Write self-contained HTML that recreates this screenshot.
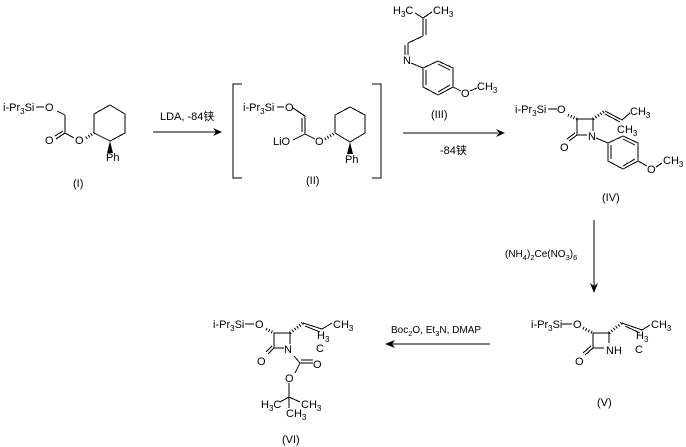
<!DOCTYPE html>
<html><head><meta charset="utf-8">
<style>
html,body{margin:0;padding:0;background:#fff}
svg{display:block}
text{font-family:"Liberation Sans","Noto Sans CJK SC",sans-serif;font-size:11px;fill:#000}
.s{font-size:8px}
.n{font-size:10px}
.n .s{font-size:7.5px}
.b line,.b polyline{stroke:#000;stroke-width:1;fill:none;shape-rendering:crispEdges}
.h line{stroke:#000;stroke-width:3;stroke-dasharray:1 2;fill:none}
</style></head><body>
<svg width="686" height="447" viewBox="0 0 686 447" xmlns="http://www.w3.org/2000/svg">
<g class="b">
<!-- I -->
<line x1="36" y1="107" x2="44" y2="107"/><line x1="57" y1="111" x2="65" y2="115"/><line x1="65" y1="115" x2="65" y2="133"/>
<line x1="65" y1="133" x2="56" y2="139"/><line x1="63" y1="131" x2="55" y2="136"/><line x1="65" y1="133" x2="74" y2="138"/>
<polyline points="94,133 94,114 110,105 125,114 125,133 110,141 94,133"/>
<!-- II -->
<polyline points="242,84 233,84 233,178 242,178"/><polyline points="372,84 381,84 381,178 372,178"/>
<line x1="277" y1="107" x2="284" y2="107"/><line x1="293" y1="108" x2="305" y2="116"/><line x1="305" y1="116" x2="305" y2="134"/><line x1="302" y1="118" x2="302" y2="132"/>
<line x1="293" y1="140" x2="305" y2="134"/><line x1="305" y1="134" x2="315" y2="139"/>
<polyline points="335,133 335,115 350,107 365,115 365,133 350,142 335,133"/>
<!-- III -->
<line x1="415" y1="13" x2="423" y2="18"/><line x1="432" y1="12" x2="423" y2="18"/><line x1="423" y1="18" x2="423" y2="36"/><line x1="426" y1="19" x2="426" y2="35"/>
<line x1="423" y1="36" x2="408" y2="43"/><line x1="408" y1="43" x2="408" y2="55"/><line x1="405" y1="45" x2="405" y2="55"/><line x1="411" y1="63" x2="423" y2="68"/>
<polyline points="423,68 438,61 453,68 453,87 438,95 423,87 423,68"/>
<line x1="426" y1="70" x2="426" y2="85"/><line x1="438" y1="64" x2="450" y2="70"/><line x1="438" y1="92" x2="450" y2="85"/>
<line x1="453" y1="87" x2="461" y2="91"/><line x1="470" y1="91" x2="477" y2="88"/>
<!-- IV -->
<line x1="548" y1="109" x2="557" y2="109"/>
<polyline points="577,135 577,119 593,119 593,131"/><line x1="577" y1="135" x2="587" y2="135"/>
<line x1="577" y1="135" x2="569" y2="141"/><line x1="575" y1="133" x2="567" y2="139"/>
<line x1="605" y1="111" x2="622" y2="120"/><line x1="605" y1="114" x2="620" y2="122"/><line x1="622" y1="120" x2="630" y2="113"/>
<line x1="596" y1="138" x2="608" y2="143"/>
<polyline points="608,143 623,136 638,143 638,161 623,169 608,161 608,143"/>
<line x1="611" y1="145" x2="611" y2="159"/><line x1="623" y1="139" x2="635" y2="145"/><line x1="623" y1="166" x2="635" y2="159"/>
<line x1="638" y1="161" x2="647" y2="166"/><line x1="656" y1="167" x2="662" y2="163"/>
<!-- V -->
<line x1="562" y1="324" x2="572" y2="324"/>
<polyline points="593,348 593,333 609,333 609,343"/><line x1="593" y1="348" x2="604" y2="348"/>
<line x1="593" y1="348" x2="585" y2="355"/><line x1="591" y1="346" x2="583" y2="353"/>
<line x1="622" y1="323" x2="642" y2="330"/><line x1="625" y1="326" x2="640" y2="333"/><line x1="642" y1="330" x2="650" y2="325"/>
<!-- VI -->
<line x1="245" y1="324" x2="254" y2="324"/>
<polyline points="274,348 274,333 290,333 290,344"/><line x1="274" y1="348" x2="284" y2="348"/>
<line x1="274" y1="348" x2="268" y2="354"/><line x1="272" y1="346" x2="266" y2="352"/>
<line x1="303" y1="323" x2="322" y2="329"/><line x1="305" y1="326" x2="320" y2="332"/><line x1="322" y1="329" x2="332" y2="323"/>
<line x1="294" y1="356" x2="300" y2="363"/><line x1="300" y1="363" x2="313" y2="363"/><line x1="301" y1="360" x2="313" y2="360"/>
<line x1="300" y1="363" x2="295" y2="373"/><line x1="289" y1="383" x2="289" y2="408"/>
<line x1="289" y1="397" x2="280" y2="402"/><line x1="289" y1="397" x2="300" y2="402"/>
<!-- arrows -->
<line x1="153" y1="132" x2="216" y2="132"/><line x1="403" y1="133" x2="498" y2="133"/>
<line x1="594" y1="220" x2="594" y2="286"/><line x1="392" y1="344" x2="490" y2="344"/>
</g>
<!-- arrowheads -->
<polygon points="222,132 213,128 216,132 213,136"/>
<polygon points="505,133 496,129 499,133 496,137"/>
<polygon points="594,293 590,283 594,286 598,283"/>
<polygon points="385,344 395,340 392,344 395,348"/>
<!-- wedges -->
<polygon points="110,141 107,153 113,153"/>
<polygon points="350,142 347,154 353,154"/>
<g class="h">
<line x1="86" y1="138" x2="94" y2="133"/><line x1="325" y1="139" x2="335" y2="133"/>
<line x1="568" y1="115" x2="577" y2="119"/><line x1="593" y1="119" x2="605" y2="111"/>
<line x1="583" y1="328" x2="593" y2="333"/><line x1="609" y1="333" x2="622" y2="323"/>
<line x1="266" y1="329" x2="274" y2="333"/><line x1="290" y1="333" x2="303" y2="323"/>
</g>
<!-- I labels -->
<text x="3" y="111">i-Pr<tspan class="s" dy="3">3</tspan><tspan dy="-3">Si</tspan></text>
<text x="45" y="111">O</text><text x="45" y="144">O</text><text x="75" y="144">O</text>
<text x="106" y="161">Ph</text><text x="73" y="187">(I)</text>
<text x="160" y="120">LDA, -84铗</text>
<!-- II labels -->
<text x="243" y="111">i-Pr<tspan class="s" dy="3">3</tspan><tspan dy="-3">Si</tspan></text>
<text x="285" y="111">O</text><text x="273" y="145">LiO</text><text x="315" y="145">O</text>
<text x="345" y="163">Ph</text><text x="306" y="184">(II)</text>
<!-- III labels -->
<text x="393" y="14">H<tspan class="s" dy="3">3</tspan><tspan dy="-3">C</tspan></text>
<text x="433" y="14">CH<tspan class="s" dy="3">3</tspan></text>
<text x="403" y="64">N</text><text x="461" y="97">O</text>
<text x="477" y="90">CH<tspan class="s" dy="3">3</tspan></text>
<text x="431" y="118">(III)</text>
<text x="440" y="154">-84铗</text>
<!-- IV labels -->
<text x="515" y="113">i-Pr<tspan class="s" dy="3">3</tspan><tspan dy="-3">Si</tspan></text>
<text x="557" y="113">O</text><text x="560" y="151">O</text><text x="588" y="140">N</text>
<text x="630" y="115">CH<tspan class="s" dy="3">3</tspan></text>
<text x="617" y="133">CH<tspan class="s" dy="3">3</tspan></text>
<text x="647" y="173">O</text>
<text x="663" y="164">CH<tspan class="s" dy="3">3</tspan></text>
<text x="602" y="201">(IV)</text>
<!-- V labels -->
<text class="n" x="505" y="257">(NH<tspan class="s" dy="3">4</tspan><tspan dy="-3">)</tspan><tspan class="s" dy="3">2</tspan><tspan dy="-3">Ce(NO</tspan><tspan class="s" dy="3">3</tspan><tspan dy="-3">)</tspan><tspan class="s" dy="3">6</tspan></text>
<text x="531" y="328">i-Pr<tspan class="s" dy="3">3</tspan><tspan dy="-3">Si</tspan></text>
<text x="573" y="328">O</text><text x="575" y="365">O</text><text x="606" y="354">NH</text>
<text x="651" y="328">CH<tspan class="s" dy="3">3</tspan></text>
<text x="636" y="339">H<tspan class="s" dy="3">3</tspan></text><text x="635" y="353">C</text>
<text x="597" y="406">(V)</text>
<!-- VI labels -->
<text class="n" x="391" y="333">Boc<tspan class="s" dy="3">2</tspan><tspan dy="-3">O, Et</tspan><tspan class="s" dy="3">3</tspan><tspan dy="-3">N, DMAP</tspan></text>
<text x="213" y="328">i-Pr<tspan class="s" dy="3">3</tspan><tspan dy="-3">Si</tspan></text>
<text x="255" y="328">O</text><text x="257" y="365">O</text><text x="284" y="353">N</text>
<text x="333" y="328">CH<tspan class="s" dy="3">3</tspan></text>
<text x="317" y="339">H<tspan class="s" dy="3">3</tspan></text><text x="316" y="352">C</text>
<text x="313" y="368">O</text><text x="285" y="382">O</text>
<text x="261" y="408">H<tspan class="s" dy="3">3</tspan><tspan dy="-3">C</tspan></text>
<text x="301" y="408">CH<tspan class="s" dy="3">3</tspan></text>
<text x="286" y="417">CH<tspan class="s" dy="3">3</tspan></text>
<text x="282" y="443">(VI)</text>
</svg>
</body></html>
